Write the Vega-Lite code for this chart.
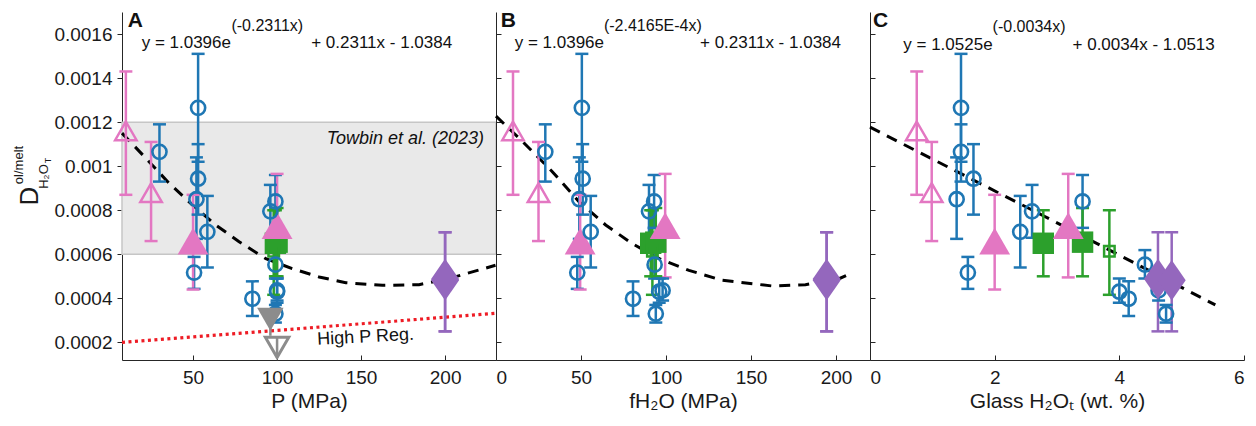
{
  "$schema": "https://vega.github.io/schema/vega-lite/v6.json",
  "background": "white",
  "padding": {"left": 12, "top": 9, "right": 5, "bottom": 5},
  "bounds": "flush",
  "spacing": 0,
  "config": {
    "font": "Liberation Sans",
    "view": {"stroke": null},
    "axis": {"grid": false, "labelFont": "Liberation Sans", "labelFontSize": 19, "labelColor": "#1a1a1a", "titleFont": "Liberation Sans", "titleFontSize": 21, "titleFontWeight": "normal", "titleColor": "#1a1a1a", "domainColor": "#262626", "tickColor": "#262626", "domainWidth": 1, "tickWidth": 1},
    "axisX": {"tickSize": -5, "labelPadding": 13, "titlePadding": 3},
    "text": {"font": "Liberation Sans", "color": "#111111"}
  },
  "datasets": {
    "pts": [
      {"s":"blue","P":30,"f":29,"H":1.46,"D":0.001065,"lo":0.00093,"hi":0.00119},
      {"s":"blue","P":53,"f":50.5,"H":1.46,"D":0.001265,"lo":0.00102,"hi":0.00151},
      {"s":"blue","P":53,"f":51,"H":1.66,"D":0.000943,"lo":0.00078,"hi":0.0011},
      {"s":"blue","P":52,"f":49,"H":1.39,"D":0.00085,"lo":0.00067,"hi":0.00104},
      {"s":"blue","P":58.5,"f":55.7,"H":2.41,"D":0.000702,"lo":0.00054,"hi":0.000865},
      {"s":"blue","P":50.6,"f":47.8,"H":1.57,"D":0.000517,"lo":0.000443,"hi":0.000588},
      {"s":"blue","P":85.3,"f":80.6,"H":4.15,"D":0.000398,"lo":0.00032,"hi":0.000477},
      {"s":"blue","P":96,"f":90,"H":2.6,"D":0.000795,"lo":0.000675,"hi":0.000915},
      {"s":"blue","P":99,"f":93,"H":3.41,"D":0.00084,"lo":0.00072,"hi":0.00096},
      {"s":"blue","P":99,"f":93.3,"H":4.41,"D":0.000553,"lo":0.00049,"hi":0.000619},
      {"s":"blue","P":100,"f":96,"H":4.0,"D":0.00043,"lo":0.00038,"hi":0.00049},
      {"s":"blue","P":100,"f":98,"H":4.63,"D":0.000436,"lo":0.00039,"hi":0.00049},
      {"s":"blue","P":99,"f":94,"H":4.75,"D":0.00033,"lo":0.00029,"hi":0.00037},
      {"s":"pinkOpen","P":10,"f":10,"H":0.75,"D":0.00116,"lo":0.00087,"hi":0.00143},
      {"s":"pinkOpen","P":25,"f":25,"H":0.99,"D":0.00088,"lo":0.00066,"hi":0.00111},
      {"s":"pinkFilled","P":50,"f":49.5,"H":2.0,"D":0.00066,"lo":0.00044,"hi":0.00087},
      {"s":"pinkFilled","P":100,"f":99.5,"H":3.18,"D":0.00073,"lo":0.000495,"hi":0.000965},
      {"s":"greenFilled","P":99,"f":91,"H":2.78,"D":0.00065,"lo":0.0005,"hi":0.0008},
      {"s":"greenFilled","P":100,"f":94,"H":3.41,"D":0.000655,"lo":0.0005,"hi":0.00081},
      {"s":"greenOpen","P":98,"f":92,"H":3.84,"D":0.000614,"lo":0.000416,"hi":0.0008},
      {"s":"purple","P":200,"f":194.5,"H":4.62,"D":0.000488,"lo":0.00025,"hi":0.0007},
      {"s":"purple","P":200,"f":194.5,"H":4.84,"D":0.000482,"lo":0.00025,"hi":0.0007},
      {"s":"gray","P":96,"f":null,"H":null,"D":0.000305,"lo":0.00023,"hi":0.00033},
      {"s":"grayOpen","P":100,"f":null,"H":null,"D":0.000177,"lo":0.00013,"hi":0.00022}
    ],
    "fit": [
      {"panel":"A","x":7.7,"y":0.00115},{"panel":"A","x":21.8,"y":0.001037},{"panel":"A","x":35.7,"y":0.000923},{"panel":"A","x":49.6,"y":0.000824},{"panel":"A","x":63.5,"y":0.000733},{"panel":"A","x":77.4,"y":0.000657},{"panel":"A","x":93.3,"y":0.00058},{"panel":"A","x":109,"y":0.000535},{"panel":"A","x":125,"y":0.000497},{"panel":"A","x":140.9,"y":0.000471},{"panel":"A","x":162.7,"y":0.000459},{"panel":"A","x":184.5,"y":0.000462},{"panel":"A","x":202,"y":0.000489},{"panel":"A","x":230,"y":0.00055},
      {"panel":"B","x":0,"y":0.001227},{"panel":"B","x":15.5,"y":0.001113},{"panel":"B","x":33,"y":0.000976},{"panel":"B","x":48.8,"y":0.000839},{"panel":"B","x":64.5,"y":0.000733},{"panel":"B","x":80,"y":0.000649},{"panel":"B","x":96,"y":0.00058},{"panel":"B","x":113.5,"y":0.000527},{"panel":"B","x":133,"y":0.000482},{"panel":"B","x":162.5,"y":0.000456},{"panel":"B","x":182,"y":0.000462},{"panel":"B","x":201.8,"y":0.000489},{"panel":"B","x":210,"y":0.000517},
      {"panel":"C","x":0,"y":0.001177},{"panel":"C","x":2.78,"y":0.000775},{"panel":"C","x":5.54,"y":0.00037}
    ],
    "hp": [{"P":7.7,"D":0.0002},{"P":230.3,"D":0.000332}]
  },
  "hconcat": [
    {
      "width": 374, "height": 348,
      "resolve": {"axis": {"x": "independent", "y": "independent"}},
      "layer": [
        {"data": {"values": [{}]},
         "mark": {"type": "rect", "fill": "#e9e9e9", "stroke": "#c6c6c6", "strokeWidth": 1.5},
         "encoding": {
           "x": {"datum": 7.7, "type": "quantitative", "scale": {"domain": [7.7, 230.3], "nice": false, "zero": false}, "axis": {"values": [50,100,150,200], "title": "P (MPa)"}},
           "x2": {"datum": 230.3},
           "y": {"datum": 0.0006, "type": "quantitative", "scale": {"domain": [0.00012, 0.0017], "nice": false, "zero": false},
                 "axis": {"orient": "left", "values": [0.0002,0.0004,0.0006,0.0008,0.001,0.0012,0.0014,0.0016], "format": "~g", "tickSize": 5, "labelPadding": 5, "title": "D", "titleFontSize": 26, "titleX": -92.5, "titleY": 183.5, "titleAngle": 270, "titleAlign": "center", "titleBaseline": "middle"}},
           "y2": {"datum": 0.0012}}},
        {"data": {"values": [{}]},
         "mark": {"type": "text", "text": "Towbin et al. (2023)", "fontSize": 18, "fontStyle": "italic", "align": "right", "baseline": "alphabetic"},
         "encoding": {
           "x": {"datum": 223.2, "type": "quantitative", "axis": null},
           "y": {"datum": 0.0011, "type": "quantitative", "axis": {"orient": "left", "domain": false, "ticks": false, "labels": false, "title": "ol/melt", "titleFontSize": 13, "titleX": -104, "titleY": 152.5, "titleAngle": 270, "titleAlign": "center", "titleBaseline": "middle"}}}},
        {"data": {"name": "hp"},
         "mark": {"type": "line", "color": "#ee1c25", "strokeWidth": 3.2, "strokeDash": [3, 3.5]},
         "encoding": {
           "x": {"field": "P", "type": "quantitative", "axis": null},
           "y": {"field": "D", "type": "quantitative", "axis": null}}},
        {"data": {"values": [{}]},
         "mark": {"type": "text", "text": "High P Reg.", "fontSize": 18, "angle": 357, "align": "center", "baseline": "middle"},
         "encoding": {
           "x": {"datum": 152.7, "type": "quantitative", "axis": null},
           "y": {"datum": 0.000223, "type": "quantitative", "axis": {"orient": "left", "domain": false, "ticks": false, "labels": false, "title": "H₂O", "titleFontSize": 13, "titleX": -79, "titleY": 164, "titleAngle": 270, "titleAlign": "center", "titleBaseline": "middle"}}}},
        {"data": {"name": "fit"},
         "transform": [{"filter": "datum.panel == 'A'"}],
         "mark": {"type": "line", "color": "black", "strokeWidth": 3, "strokeDash": [11, 8]},
         "encoding": {
           "x": {"field": "x", "type": "quantitative", "axis": null},
           "y": {"field": "y", "type": "quantitative", "axis": null}}},
        {"data": {"name": "pts"},
         "mark": {"type": "rule", "strokeWidth": 2.5},
         "encoding": {
           "x": {"field": "P", "type": "quantitative", "axis": null},
           "y": {"field": "lo", "type": "quantitative", "axis": null},
           "y2": {"field": "hi"},
           "color": {"field": "s", "type": "nominal", "legend": null, "scale": {"domain": ["blue","pinkOpen","pinkFilled","greenFilled","greenOpen","purple","gray","grayOpen"], "range": ["#1f77b4","#e377c2","#e377c2","#2ca02c","#2ca02c","#9467bd","#8c8c8c","#8c8c8c"]}}}},
        {"data": {"name": "pts"},
         "transform": [{"filter": "datum.s != 'gray' && datum.s != 'grayOpen'"}],
         "mark": {"type": "tick", "orient": "horizontal", "size": 13, "thickness": 2.5, "opacity": 1},
         "encoding": {
           "x": {"field": "P", "type": "quantitative", "axis": null},
           "y": {"field": "lo", "type": "quantitative", "axis": null},
           "color": {"field": "s", "type": "nominal", "legend": null}}},
        {"data": {"name": "pts"},
         "transform": [{"filter": "datum.s != 'gray' && datum.s != 'grayOpen'"}],
         "mark": {"type": "tick", "orient": "horizontal", "size": 13, "thickness": 2.5, "opacity": 1},
         "encoding": {
           "x": {"field": "P", "type": "quantitative", "axis": null},
           "y": {"field": "hi", "type": "quantitative", "axis": null},
           "color": {"field": "s", "type": "nominal", "legend": null}}},
        {"data": {"name": "pts"}, "transform": [{"filter": "datum.s == 'greenFilled'"}],
         "mark": {"type": "point", "shape": "square", "size": 460, "filled": true, "color": "#2ca02c", "opacity": 1},
         "encoding": {"x": {"field": "P", "type": "quantitative", "axis": null}, "y": {"field": "D", "type": "quantitative", "axis": null}}},
        {"data": {"name": "pts"}, "transform": [{"filter": "datum.s == 'greenOpen'"}],
         "mark": {"type": "point", "shape": "square", "size": 110, "filled": false, "color": "#2ca02c", "strokeWidth": 2.5, "opacity": 1},
         "encoding": {"x": {"field": "P", "type": "quantitative", "axis": null}, "y": {"field": "D", "type": "quantitative", "axis": null}}},
        {"data": {"name": "pts"}, "transform": [{"filter": "datum.s == 'pinkFilled'"}],
         "mark": {"type": "point", "shape": "triangle-up", "size": 950, "filled": true, "color": "#e377c2", "opacity": 1},
         "encoding": {"x": {"field": "P", "type": "quantitative", "axis": null}, "y": {"field": "D", "type": "quantitative", "axis": null}}},
        {"data": {"name": "pts"}, "transform": [{"filter": "datum.s == 'pinkOpen'"}],
         "mark": {"type": "point", "shape": "triangle-up", "size": 460, "filled": false, "color": "#e377c2", "strokeWidth": 2.5, "opacity": 1},
         "encoding": {"x": {"field": "P", "type": "quantitative", "axis": null}, "y": {"field": "D", "type": "quantitative", "axis": null}}},
        {"data": {"name": "pts"}, "transform": [{"filter": "datum.s == 'blue'"}],
         "mark": {"type": "point", "shape": "circle", "size": 200, "filled": false, "color": "#1f77b4", "strokeWidth": 2.6, "opacity": 1},
         "encoding": {"x": {"field": "P", "type": "quantitative", "axis": null}, "y": {"field": "D", "type": "quantitative", "axis": null}}},
        {"data": {"name": "pts"}, "transform": [{"filter": "datum.s == 'purple'"}],
         "mark": {"type": "point", "shape": "M0,-1.45L1,0L0,1.45L-1,0Z", "size": 784, "filled": true, "color": "#9467bd", "opacity": 1},
         "encoding": {"x": {"field": "P", "type": "quantitative", "axis": null}, "y": {"field": "D", "type": "quantitative", "axis": null}}},
        {"data": {"name": "pts"}, "transform": [{"filter": "datum.s == 'gray'"}],
         "mark": {"type": "point", "shape": "triangle-down", "size": 700, "filled": true, "color": "#8c8c8c", "opacity": 1},
         "encoding": {"x": {"field": "P", "type": "quantitative", "axis": null}, "y": {"field": "D", "type": "quantitative", "axis": null}}},
        {"data": {"name": "pts"}, "transform": [{"filter": "datum.s == 'grayOpen'"}],
         "mark": {"type": "point", "shape": "triangle-down", "size": 550, "filled": false, "color": "#8c8c8c", "strokeWidth": 3, "opacity": 1},
         "encoding": {"x": {"field": "P", "type": "quantitative", "axis": null}, "y": {"field": "D", "type": "quantitative", "axis": null}}},
        {"data": {"values": [{}]},
         "mark": {"type": "text", "text": "A", "fontSize": 21, "fontWeight": "bold", "align": "left", "baseline": "alphabetic"},
         "encoding": {
           "x": {"datum": 11.1, "type": "quantitative", "axis": null},
           "y": {"datum": 0.001634, "type": "quantitative", "axis": {"orient": "left", "domain": false, "ticks": false, "labels": false, "title": "T", "titleFontSize": 9, "titleX": -75, "titleY": 148, "titleAngle": 270, "titleAlign": "center", "titleBaseline": "middle"}}}},
        {"data": {"values": [{}]},
         "mark": {"type": "text", "text": "y = 1.0396e", "fontSize": 17, "align": "left", "baseline": "alphabetic"},
         "encoding": {"x": {"datum": 19.4, "type": "quantitative", "axis": null}, "y": {"datum": 0.001535, "type": "quantitative", "axis": null}}},
        {"data": {"values": [{}]},
         "mark": {"type": "text", "text": "(-0.2311x)", "fontSize": 16, "align": "left", "baseline": "alphabetic"},
         "encoding": {"x": {"datum": 72.8, "type": "quantitative", "axis": null}, "y": {"datum": 0.001615, "type": "quantitative", "axis": null}}},
        {"data": {"values": [{}]},
         "mark": {"type": "text", "text": "+ 0.2311x - 1.0384", "fontSize": 17, "align": "left", "baseline": "alphabetic"},
         "encoding": {"x": {"datum": 120.3, "type": "quantitative", "axis": null}, "y": {"datum": 0.001535, "type": "quantitative", "axis": null}}}
      ]
    },
    {
      "width": 374, "height": 348,
      "resolve": {"axis": {"x": "independent", "y": "independent"}},
      "layer": [
        {"data": {"name": "fit"},
         "transform": [{"filter": "datum.panel == 'B'"}],
         "mark": {"type": "line", "color": "black", "strokeWidth": 3, "strokeDash": [11, 8]},
         "encoding": {
           "x": {"field": "x", "type": "quantitative", "scale": {"domain": [0, 220], "nice": false, "zero": false}, "axis": {"values": [0,50,100,150,200], "title": "fH₂O (MPa)"}},
           "y": {"field": "y", "type": "quantitative", "scale": {"domain": [0.00012, 0.0017], "nice": false, "zero": false}, "axis": {"values": [0.0002,0.0004,0.0006,0.0008,0.001,0.0012,0.0014,0.0016], "labels": false, "tickSize": -5, "title": null}}}},
        {"data": {"name": "pts"}, "transform": [{"filter": "isValid(datum.f)"}],
         "mark": {"type": "rule", "strokeWidth": 2.5},
         "encoding": {
           "x": {"field": "f", "type": "quantitative", "axis": null},
           "y": {"field": "lo", "type": "quantitative", "axis": null},
           "y2": {"field": "hi"},
           "color": {"field": "s", "type": "nominal", "legend": null}}},
        {"data": {"name": "pts"}, "transform": [{"filter": "isValid(datum.f)"}],
         "mark": {"type": "tick", "orient": "horizontal", "size": 13, "thickness": 2.5, "opacity": 1},
         "encoding": {
           "x": {"field": "f", "type": "quantitative", "axis": null},
           "y": {"field": "lo", "type": "quantitative", "axis": null},
           "color": {"field": "s", "type": "nominal", "legend": null}}},
        {"data": {"name": "pts"}, "transform": [{"filter": "isValid(datum.f)"}],
         "mark": {"type": "tick", "orient": "horizontal", "size": 13, "thickness": 2.5, "opacity": 1},
         "encoding": {
           "x": {"field": "f", "type": "quantitative", "axis": null},
           "y": {"field": "hi", "type": "quantitative", "axis": null},
           "color": {"field": "s", "type": "nominal", "legend": null}}},
        {"data": {"name": "pts"}, "transform": [{"filter": "datum.s == 'greenFilled'"}],
         "mark": {"type": "point", "shape": "square", "size": 460, "filled": true, "color": "#2ca02c", "opacity": 1},
         "encoding": {"x": {"field": "f", "type": "quantitative", "axis": null}, "y": {"field": "D", "type": "quantitative", "axis": null}}},
        {"data": {"name": "pts"}, "transform": [{"filter": "datum.s == 'greenOpen'"}],
         "mark": {"type": "point", "shape": "square", "size": 110, "filled": false, "color": "#2ca02c", "strokeWidth": 2.5, "opacity": 1},
         "encoding": {"x": {"field": "f", "type": "quantitative", "axis": null}, "y": {"field": "D", "type": "quantitative", "axis": null}}},
        {"data": {"name": "pts"}, "transform": [{"filter": "datum.s == 'pinkFilled'"}],
         "mark": {"type": "point", "shape": "triangle-up", "size": 950, "filled": true, "color": "#e377c2", "opacity": 1},
         "encoding": {"x": {"field": "f", "type": "quantitative", "axis": null}, "y": {"field": "D", "type": "quantitative", "axis": null}}},
        {"data": {"name": "pts"}, "transform": [{"filter": "datum.s == 'pinkOpen'"}],
         "mark": {"type": "point", "shape": "triangle-up", "size": 460, "filled": false, "color": "#e377c2", "strokeWidth": 2.5, "opacity": 1},
         "encoding": {"x": {"field": "f", "type": "quantitative", "axis": null}, "y": {"field": "D", "type": "quantitative", "axis": null}}},
        {"data": {"name": "pts"}, "transform": [{"filter": "datum.s == 'blue'"}],
         "mark": {"type": "point", "shape": "circle", "size": 200, "filled": false, "color": "#1f77b4", "strokeWidth": 2.6, "opacity": 1},
         "encoding": {"x": {"field": "f", "type": "quantitative", "axis": null}, "y": {"field": "D", "type": "quantitative", "axis": null}}},
        {"data": {"name": "pts"}, "transform": [{"filter": "datum.s == 'purple'"}],
         "mark": {"type": "point", "shape": "M0,-1.45L1,0L0,1.45L-1,0Z", "size": 784, "filled": true, "color": "#9467bd", "opacity": 1},
         "encoding": {"x": {"field": "f", "type": "quantitative", "axis": null}, "y": {"field": "D", "type": "quantitative", "axis": null}}},
        {"data": {"values": [{}]},
         "mark": {"type": "text", "text": "B", "fontSize": 21, "fontWeight": "bold", "align": "left", "baseline": "alphabetic"},
         "encoding": {"x": {"datum": 2.8, "type": "quantitative", "axis": null}, "y": {"datum": 0.001634, "type": "quantitative", "axis": null}}},
        {"data": {"values": [{}]},
         "mark": {"type": "text", "text": "y = 1.0396e", "fontSize": 17, "align": "left", "baseline": "alphabetic"},
         "encoding": {"x": {"datum": 11.0, "type": "quantitative", "axis": null}, "y": {"datum": 0.001535, "type": "quantitative", "axis": null}}},
        {"data": {"values": [{}]},
         "mark": {"type": "text", "text": "(-2.4165E-4x)", "fontSize": 16, "align": "left", "baseline": "alphabetic"},
         "encoding": {"x": {"datum": 63.5, "type": "quantitative", "axis": null}, "y": {"datum": 0.001615, "type": "quantitative", "axis": null}}},
        {"data": {"values": [{}]},
         "mark": {"type": "text", "text": "+ 0.2311x - 1.0384", "fontSize": 17, "align": "left", "baseline": "alphabetic"},
         "encoding": {"x": {"datum": 120, "type": "quantitative", "axis": null}, "y": {"datum": 0.001535, "type": "quantitative", "axis": null}}}
      ]
    },
    {
      "width": 374, "height": 348,
      "resolve": {"axis": {"x": "independent", "y": "independent"}},
      "layer": [
        {"data": {"name": "fit"},
         "transform": [{"filter": "datum.panel == 'C'"}],
         "mark": {"type": "line", "color": "black", "strokeWidth": 3, "strokeDash": [11, 8]},
         "encoding": {
           "x": {"field": "x", "type": "quantitative", "scale": {"domain": [0, 6], "nice": false, "zero": false}, "axis": {"values": [0,2,4,6], "title": "Glass H₂Oₜ (wt. %)"}},
           "y": {"field": "y", "type": "quantitative", "scale": {"domain": [0.00012, 0.0017], "nice": false, "zero": false}, "axis": {"values": [0.0002,0.0004,0.0006,0.0008,0.001,0.0012,0.0014,0.0016], "labels": false, "tickSize": -5, "title": null}}}},
        {"data": {"name": "pts"}, "transform": [{"filter": "isValid(datum.H)"}],
         "mark": {"type": "rule", "strokeWidth": 2.5},
         "encoding": {
           "x": {"field": "H", "type": "quantitative", "axis": null},
           "y": {"field": "lo", "type": "quantitative", "axis": null},
           "y2": {"field": "hi"},
           "color": {"field": "s", "type": "nominal", "legend": null}}},
        {"data": {"name": "pts"}, "transform": [{"filter": "isValid(datum.H)"}],
         "mark": {"type": "tick", "orient": "horizontal", "size": 13, "thickness": 2.5, "opacity": 1},
         "encoding": {
           "x": {"field": "H", "type": "quantitative", "axis": null},
           "y": {"field": "lo", "type": "quantitative", "axis": null},
           "color": {"field": "s", "type": "nominal", "legend": null}}},
        {"data": {"name": "pts"}, "transform": [{"filter": "isValid(datum.H)"}],
         "mark": {"type": "tick", "orient": "horizontal", "size": 13, "thickness": 2.5, "opacity": 1},
         "encoding": {
           "x": {"field": "H", "type": "quantitative", "axis": null},
           "y": {"field": "hi", "type": "quantitative", "axis": null},
           "color": {"field": "s", "type": "nominal", "legend": null}}},
        {"data": {"name": "pts"}, "transform": [{"filter": "datum.s == 'greenFilled'"}],
         "mark": {"type": "point", "shape": "square", "size": 460, "filled": true, "color": "#2ca02c", "opacity": 1},
         "encoding": {"x": {"field": "H", "type": "quantitative", "axis": null}, "y": {"field": "D", "type": "quantitative", "axis": null}}},
        {"data": {"name": "pts"}, "transform": [{"filter": "datum.s == 'greenOpen'"}],
         "mark": {"type": "point", "shape": "square", "size": 110, "filled": false, "color": "#2ca02c", "strokeWidth": 2.5, "opacity": 1},
         "encoding": {"x": {"field": "H", "type": "quantitative", "axis": null}, "y": {"field": "D", "type": "quantitative", "axis": null}}},
        {"data": {"name": "pts"}, "transform": [{"filter": "datum.s == 'pinkFilled'"}],
         "mark": {"type": "point", "shape": "triangle-up", "size": 950, "filled": true, "color": "#e377c2", "opacity": 1},
         "encoding": {"x": {"field": "H", "type": "quantitative", "axis": null}, "y": {"field": "D", "type": "quantitative", "axis": null}}},
        {"data": {"name": "pts"}, "transform": [{"filter": "datum.s == 'pinkOpen'"}],
         "mark": {"type": "point", "shape": "triangle-up", "size": 460, "filled": false, "color": "#e377c2", "strokeWidth": 2.5, "opacity": 1},
         "encoding": {"x": {"field": "H", "type": "quantitative", "axis": null}, "y": {"field": "D", "type": "quantitative", "axis": null}}},
        {"data": {"name": "pts"}, "transform": [{"filter": "datum.s == 'blue'"}],
         "mark": {"type": "point", "shape": "circle", "size": 200, "filled": false, "color": "#1f77b4", "strokeWidth": 2.6, "opacity": 1},
         "encoding": {"x": {"field": "H", "type": "quantitative", "axis": null}, "y": {"field": "D", "type": "quantitative", "axis": null}}},
        {"data": {"name": "pts"}, "transform": [{"filter": "datum.s == 'purple'"}],
         "mark": {"type": "point", "shape": "M0,-1.45L1,0L0,1.45L-1,0Z", "size": 784, "filled": true, "color": "#9467bd", "opacity": 1},
         "encoding": {"x": {"field": "H", "type": "quantitative", "axis": null}, "y": {"field": "D", "type": "quantitative", "axis": null}}},
        {"data": {"values": [{}]},
         "mark": {"type": "text", "text": "C", "fontSize": 21, "fontWeight": "bold", "align": "left", "baseline": "alphabetic"},
         "encoding": {"x": {"datum": 0.05, "type": "quantitative", "axis": null}, "y": {"datum": 0.001634, "type": "quantitative", "axis": null}}},
        {"data": {"values": [{}]},
         "mark": {"type": "text", "text": "y = 1.0525e", "fontSize": 17, "align": "left", "baseline": "alphabetic"},
         "encoding": {"x": {"datum": 0.534, "type": "quantitative", "axis": null}, "y": {"datum": 0.001528, "type": "quantitative", "axis": null}}},
        {"data": {"values": [{}]},
         "mark": {"type": "text", "text": "(-0.0034x)", "fontSize": 16, "align": "left", "baseline": "alphabetic"},
         "encoding": {"x": {"datum": 1.967, "type": "quantitative", "axis": null}, "y": {"datum": 0.001611, "type": "quantitative", "axis": null}}},
        {"data": {"values": [{}]},
         "mark": {"type": "text", "text": "+ 0.0034x - 1.0513", "fontSize": 17, "align": "left", "baseline": "alphabetic"},
         "encoding": {"x": {"datum": 3.249, "type": "quantitative", "axis": null}, "y": {"datum": 0.001528, "type": "quantitative", "axis": null}}}
      ]
    }
  ]
}
